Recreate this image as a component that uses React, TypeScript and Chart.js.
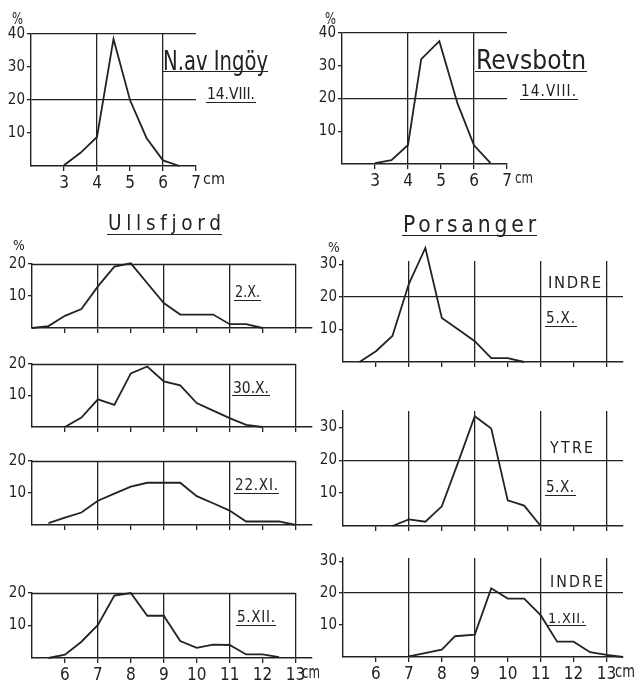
import React, { useEffect, useRef } from 'react';
import { Chart, registerables } from 'chart.js';
Chart.register(...registerables);

// ---------- data (length classes in cm, frequency in %) ----------
const ingoyCm = [3, 3.5, 4, 4.5, 5, 5.5, 6, 6.5];
const ingoyPct = [0.2, 4, 8.8, 38.5, 20, 8.5, 1.7, 0];

const revsbotnCm = [3, 3.5, 4, 4.4, 4.95, 5.5, 6, 6.5];
const revsbotnPct = [0.3, 1.2, 5.8, 32, 37.5, 18.5, 5.7, 0.3];

const ulls2XCm = [5, 5.5, 6, 6.5, 7, 7.5, 8, 8.5, 9, 9.5, 10, 10.5, 11, 11.5, 12];
const ulls2XPct = [0, 0.6, 3.8, 5.9, 13, 19.2, 20.2, 14, 7.8, 4.2, 4.2, 4.2, 1.2, 1.2, 0];

const ulls30XCm = [6, 6.5, 7, 7.5, 8, 8.5, 9, 9.5, 10, 10.5, 11, 11.5, 12];
const ulls30XPct = [0, 3, 8.8, 7, 17, 19.2, 14.5, 13.2, 7.6, 5.2, 2.8, 0.7, 0];

const ulls22XICm = [5.5, 6, 6.5, 7, 7.5, 8, 8.5, 9, 9.5, 10, 10.5, 11, 11.5, 12, 12.5, 13];
const ulls22XIPct = [0.6, 2.3, 3.9, 7.6, 9.8, 12, 13.2, 13.2, 13.2, 9, 6.8, 4.5, 1.1, 1.1, 1.1, 0];

const ulls5XIICm = [5.5, 6, 6.5, 7, 7.5, 8, 8.5, 9, 9.5, 10, 10.5, 11, 11.5, 12, 12.5];
const ulls5XIIPct = [0, 1, 5, 10.2, 19.2, 20, 13, 13, 5.2, 3.1, 4.1, 4, 1.1, 1.1, 0.3];

const porsIndre5XCm = [5.5, 6, 6.5, 7, 7.5, 8, 8.5, 9, 9.5, 10, 10.5];
const porsIndre5XPct = [0, 3.3, 8, 24, 35, 13.5, 10, 6.4, 1.2, 1.2, 0];

const porsYtre5XCm = [6.5, 7, 7.5, 8, 8.5, 9, 9.5, 10, 10.5, 11];
const porsYtre5XPct = [0, 2, 1.3, 6, 19.5, 33.4, 29.7, 7.8, 6.2, 0];

const porsIndre1XIICm = [7, 8, 8.4, 9, 9.5, 10, 10.5, 11, 11.5, 12, 12.5, 13, 13.5];
const porsIndre1XIIPct = [0.2, 2.3, 6.5, 7, 21.5, 18.3, 18.3, 13.1, 4.8, 4.8, 1.5, 0.7, 0];

// ---------- tick values ----------
const topXTicks = [3, 4, 5, 6, 7];
const topXFull = [4, 6];
const topYTicks = [10, 20, 30, 40];
const topYFull = [20, 40];
const fjordXTicks = [6, 7, 8, 9, 10, 11, 12, 13];
const fjordXFull = [7, 9, 11, 13];
const ullsYTicks = [10, 20];
const porsYTicks = [10, 20, 30];
const porsYFull = [20];

// ---------- texts ----------
const titleIngoy = 'N.av Ingöy';
const titleRevs = 'Revsbotn';
const titleUlls = 'Ullsfjord';
const titlePors = 'Porsanger';

const INK = '#222222';
const FONT = '"DejaVu Sans Condensed", "DejaVu Sans", sans-serif';
const Y_W = 30;
const X_H = 26;
const PAD_T = 20;
const PAD_R = 14;

const frameLinesPlugin = {
  id: 'frameLines',
  beforeDatasetsDraw(chart: any, _args: any, opts: any) {
    const { ctx, scales } = chart;
    const xs = scales.x, ys = scales.y;
    ctx.save();
    ctx.strokeStyle = INK;
    ctx.lineWidth = 1.3;
    for (const [x0, y0, x1, y1] of (opts.lines || [])) {
      ctx.beginPath();
      ctx.moveTo(xs.getPixelForValue(x0), Math.round(ys.getPixelForValue(y0)) + 0.5);
      ctx.lineTo(xs.getPixelForValue(x1), Math.round(ys.getPixelForValue(y1)) + 0.5);
      ctx.stroke();
    }
    ctx.restore();
  },
};

type PanelCfg = {
  xs: number[]; ys: number[];
  x: [number, number]; y: [number, number];
  xTicks: number[]; xFull: number[];
  yTicks: number[]; yFull: number[];
  showX: boolean;
  box: { l: number; r: number; t: number; b: number };
  lines?: number[][];
};

function PanelChart({ cfg }: { cfg: PanelCfg }) {
  const ref = useRef<HTMLCanvasElement | null>(null);
  const { box } = cfg;
  const w = box.r - box.l + Y_W + PAD_R;
  const h = box.b - box.t + PAD_T + X_H;
  useEffect(() => {
    const chart = new Chart(ref.current as HTMLCanvasElement, {
      type: 'scatter',
      data: {
        datasets: [{
          data: cfg.xs.map((x, i) => ({ x, y: cfg.ys[i] })),
          showLine: true,
          borderColor: INK,
          borderWidth: 1.8,
          pointRadius: 0,
          clip: false as any,
          tension: 0,
        }],
      },
      options: {
        animation: false,
        responsive: false,
        devicePixelRatio: 1,
        events: [],
        layout: { padding: { top: PAD_T, right: PAD_R, left: 0, bottom: 0 } },
        plugins: {
          legend: { display: false },
          tooltip: { enabled: false },
          frameLines: { lines: cfg.lines || [] },
        } as any,
        scales: {
          x: {
            type: 'linear',
            min: cfg.x[0],
            max: cfg.x[1],
            afterBuildTicks: (s: any) => { s.ticks = cfg.xTicks.map((v) => ({ value: v })); },
            afterFit: (s: any) => { s.height = X_H; s.paddingLeft = 0; s.paddingRight = 0; s.paddingTop = 0; s.paddingBottom = 0; },
            grid: {
              color: (c: any) => (c.tick && cfg.xFull.includes(c.tick.value) ? INK : 'rgba(0,0,0,0)'),
              tickColor: INK,
              tickLength: 5,
              lineWidth: 1.3,
            },
            border: { color: INK, width: 1.4 },
            ticks: {
              display: cfg.showX,
              color: INK,
              font: { family: FONT, size: 17 },
              padding: 2,
              maxRotation: 0,
              autoSkip: false,
            },
          },
          y: {
            type: 'linear',
            min: cfg.y[0],
            max: cfg.y[1],
            afterBuildTicks: (s: any) => { s.ticks = cfg.yTicks.map((v) => ({ value: v })); },
            afterFit: (s: any) => { s.width = Y_W; s.paddingLeft = 0; s.paddingRight = 0; s.paddingTop = 0; s.paddingBottom = 0; },
            grid: {
              color: (c: any) => (c.tick && cfg.yFull.includes(c.tick.value) ? INK : 'rgba(0,0,0,0)'),
              tickColor: INK,
              tickLength: 4,
              lineWidth: 1.3,
            },
            border: { color: INK, width: 1.4 },
            ticks: {
              color: INK,
              font: { family: FONT, size: 15 },
              padding: 2,
              autoSkip: false,
            },
          },
        },
      },
      plugins: [frameLinesPlugin],
    } as any);
    return () => chart.destroy();
  }, []);
  return (
    <canvas
      ref={ref}
      width={w}
      height={h}
      style={{ position: 'absolute', left: box.l - Y_W, top: box.t - PAD_T, width: w, height: h }}
    />
  );
}

let mctx: CanvasRenderingContext2D | null = null;
function measure(t: string, font: string) {
  if (!mctx) mctx = document.createElement('canvas').getContext('2d');
  mctx!.font = font;
  return mctx!.measureText(t).width;
}

function Txt({ t, x, base, cap, w }: { t: string; x: number; base: number; cap: number; w?: number }) {
  const size = cap / 0.729;
  const font = `${size}px ${FONT}`;
  const nat = measure(t, font);
  let ls = 0;
  let sx = 1;
  if (w) {
    if (nat > w) sx = w / nat;
    else ls = (w - nat) / Math.max(1, t.length - 1);
  }
  return (
    <div
      style={{
        position: 'absolute',
        left: x,
        top: base - 0.846 * size,
        font,
        lineHeight: `${size}px`,
        letterSpacing: `${ls}px`,
        whiteSpace: 'nowrap',
        color: INK,
        transform: sx !== 1 ? `scaleX(${sx})` : undefined,
        transformOrigin: '0 0',
      }}
    >
      {t}
    </div>
  );
}

function ULine({ x0, x1, y }: { x0: number; x1: number; y: number }) {
  return <div style={{ position: 'absolute', left: x0, top: y, width: x1 - x0, height: 1.4, background: INK }} />;
}

const panels: PanelCfg[] = [
  { xs: ingoyCm, ys: ingoyPct, x: [2, 7], y: [0, 40], xTicks: topXTicks, xFull: topXFull, yTicks: topYTicks, yFull: topYFull, showX: true, box: { l: 31, r: 196, t: 34, b: 166 } },
  { xs: revsbotnCm, ys: revsbotnPct, x: [2, 7], y: [0, 40], xTicks: topXTicks, xFull: topXFull, yTicks: topYTicks, yFull: topYFull, showX: true, box: { l: 342, r: 507, t: 33, b: 164 } },
  { xs: ulls2XCm, ys: ulls2XPct, x: [5, 13.5], y: [0, 20], xTicks: fjordXTicks, xFull: fjordXFull, yTicks: ullsYTicks, yFull: [], showX: false, box: { l: 32, r: 312, t: 264, b: 328 }, lines: [[5, 20, 13, 20]] },
  { xs: ulls30XCm, ys: ulls30XPct, x: [5, 13.5], y: [0, 20], xTicks: fjordXTicks, xFull: fjordXFull, yTicks: ullsYTicks, yFull: [], showX: false, box: { l: 32, r: 312, t: 364, b: 427 }, lines: [[5, 20, 13, 20]] },
  { xs: ulls22XICm, ys: ulls22XIPct, x: [5, 13.5], y: [0, 20], xTicks: fjordXTicks, xFull: fjordXFull, yTicks: ullsYTicks, yFull: [], showX: false, box: { l: 32, r: 312, t: 461, b: 525 }, lines: [[5, 20, 13, 20]] },
  { xs: ulls5XIICm, ys: ulls5XIIPct, x: [5, 13.5], y: [0, 20], xTicks: fjordXTicks, xFull: fjordXFull, yTicks: ullsYTicks, yFull: [], showX: true, box: { l: 32, r: 312, t: 593, b: 658 }, lines: [[5, 20, 13, 20]] },
  { xs: porsIndre5XCm, ys: porsIndre5XPct, x: [5, 13.5], y: [0, 31], xTicks: fjordXTicks, xFull: fjordXFull, yTicks: porsYTicks, yFull: porsYFull, showX: false, box: { l: 343, r: 623, t: 261, b: 362 } },
  { xs: porsYtre5XCm, ys: porsYtre5XPct, x: [5, 13.5], y: [0, 35], xTicks: fjordXTicks, xFull: fjordXFull, yTicks: porsYTicks, yFull: porsYFull, showX: false, box: { l: 343, r: 623, t: 411, b: 526 } },
  { xs: porsIndre1XIICm, ys: porsIndre1XIIPct, x: [5, 13.5], y: [0, 31], xTicks: fjordXTicks, xFull: fjordXFull, yTicks: porsYTicks, yFull: porsYFull, showX: true, box: { l: 343, r: 623, t: 558, b: 657 } },
];

export default function App() {
  return (
    <div style={{ position: 'absolute', left: 0, top: 0, width: 638, height: 681, background: '#fff', overflow: 'hidden' }}>
      {panels.map((p, i) => <PanelChart key={i} cfg={p} />)}

      <Txt t="%" x={12} base={25} cap={11} w={11} />
      <Txt t="%" x={325} base={25} cap={11} w={11} />
      <Txt t="%" x={13} base={251} cap={10} w={12} />
      <Txt t="%" x={328} base={253} cap={10} w={13} />

      <Txt t={titleIngoy} x={163} base={70} cap={20} w={105} />
      <ULine x0={162} x1={268} y={71} />
      <Txt t="14.VIII." x={207} base={100} cap={12} w={48} />
      <ULine x0={206} x1={256} y={102} />

      <Txt t={titleRevs} x={476} base={69} cap={19} w={110} />
      <ULine x0={475} x1={587} y={71} />
      <Txt t="14.VIII." x={521} base={97} cap={11} w={55} />
      <ULine x0={520} x1={578} y={99} />

      <Txt t={titleUlls} x={108} base={230} cap={15} w={113} />
      <ULine x0={107} x1={222} y={234} />
      <Txt t={titlePors} x={403} base={232} cap={16.5} w={133} />
      <ULine x0={402} x1={537} y={235} />

      <Txt t="2.X." x={235} base={298} cap={11} w={25} />
      <ULine x0={234} x1={261} y={300} />
      <Txt t="30.X." x={233} base={393} cap={11.5} w={36} />
      <ULine x0={232} x1={270} y={395} />
      <Txt t="22.XI." x={235} base={491} cap={11} w={43} />
      <ULine x0={234} x1={279} y={493} />
      <Txt t="5.XII." x={237} base={623} cap={11} w={38} />
      <ULine x0={236} x1={276} y={625} />

      <Txt t="INDRE" x={548} base={289} cap={12} w={53} />
      <Txt t="5.X." x={546} base={324} cap={11} w={29} />
      <ULine x0={545} x1={577} y={326} />
      <Txt t="YTRE" x={550} base={453} cap={11.5} w={43} />
      <Txt t="5.X." x={546} base={493} cap={11} w={28} />
      <ULine x0={545} x1={576} y={495} />
      <Txt t="INDRE" x={550} base={587} cap={11.5} w={53} />
      <Txt t="1.XII." x={548} base={623} cap={10.5} w={37} />
      <ULine x0={547} x1={586} y={625} />

      <Txt t="cm" x={203} base={185} cap={12} w={22} />
      <Txt t="cm" x={515} base={184} cap={12} w={18} />
      <Txt t="cm" x={302} base={679} cap={12.5} w={18} />
      <Txt t="cm" x={615} base={678} cap={12.5} w={20} />
    </div>
  );
}
